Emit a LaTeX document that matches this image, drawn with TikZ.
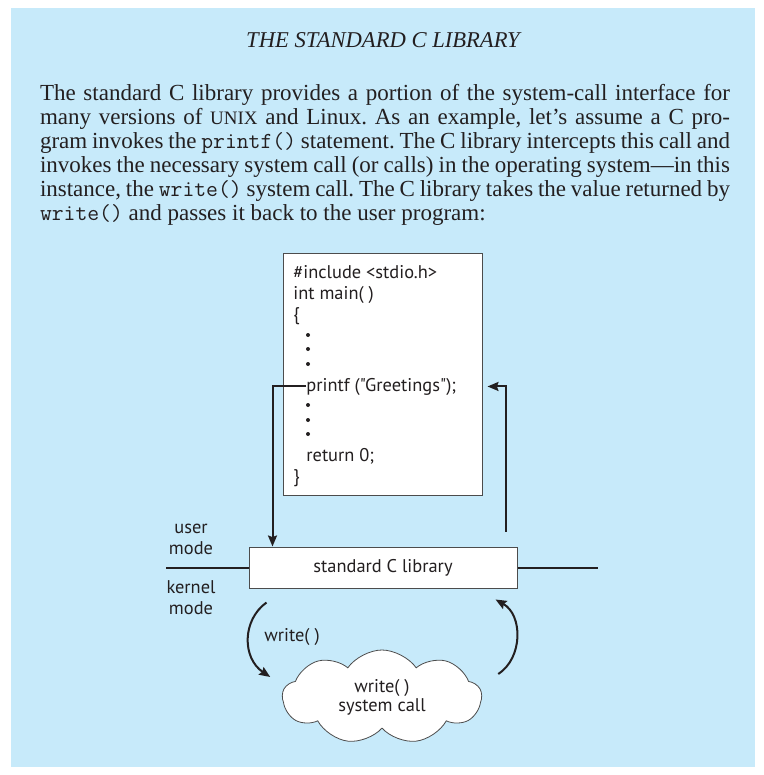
\documentclass[tikz,border=0pt]{standalone}
\usepackage{fontspec}
\setmainfont{Liberation Serif}
\newfontfamily\diagfont{PT Sans}
\usetikzlibrary{arrows.meta,positioning,calc,shapes.symbols}

\definecolor{bgblue}{RGB}{199,234,250}
\definecolor{textblack}{RGB}{35,31,32}

\begin{document}
\frenchspacing
\begin{tikzpicture}[
    x=0.5pt, y=-0.5pt,
    color=textblack,
    box/.style={
        draw=black!70,
        fill=white,
        line width=0.5pt,
        inner sep=0pt
    },
    code/.style={
        font=\diagfont\fontsize{9.2}{10.5}\selectfont,
        inner sep=0pt,
        anchor=base west
    },
    tag/.style={
        font=\diagfont\fontsize{9.2}{10.5}\selectfont,
        align=center,
        inner sep=0pt
    },
    line/.style={-{Stealth[length=5.5pt,width=4.5pt,inset=0.8pt]}, line width=1pt},
    modeline/.style={line width=1pt}
]

\useasboundingbox (0,0) rectangle (764,775);
\fill[bgblue] (11,8) rectangle (755,767);

% box title and text
\node[font=\itshape\fontsize{11.3}{13}\selectfont] (title) at (383,40) {THE STANDARD C LIBRARY};
\node[text width=345pt, align=justify, inner sep=0pt, font=\fontsize{11.5}{12}\selectfont] (intro) at (385,155) {%
The standard C library provides a portion of the system-call interface for\linebreak
many versions of {\fontsize{9.5}{12}\selectfont UNIX} and Linux. As an example, let's assume a C pro-\linebreak
gram invokes the \texttt{printf()} statement. The C library intercepts this call and\linebreak
invokes the necessary system call (or calls) in the operating system---in this\linebreak
instance, the \texttt{write()} system call. The C library takes the value returned by\linebreak
\texttt{write()} and passes it back to the user program:};

% user program
\node[box, minimum width=99.5pt, minimum height=121pt] (prog) at (382.5,374) {};
\node[code] (inc) at (293,278) {\#include <stdio.h>};
\node[code] (main) at (293,299) {int main( )};
\node[code] (open) at (293,320) {\{};
\node[code] (printf) at (306,391) {printf ("Greetings");};
\node[code] (ret) at (306,461) {return 0;};
\node[code] (close) at (293,482) {\}};
\foreach \y in {335,349,364,405,420,434}
    \fill (308,\y) circle (1pt);

% library and mode boundary
\node[box, minimum width=134pt, minimum height=20.5pt, font=\diagfont\fontsize{9.2}{10.5}\selectfont] (lib) at (383,567.5) {standard C library};
\coordinate (modeleft) at (166,567.5);
\coordinate (moderight) at (598,567.5);
\draw[modeline] (modeleft) -- (lib.west);
\draw[modeline] (lib.east) -- (moderight);
\node[tag] (user) at (191,539.5) {user\\mode};
\node[tag] (kernel) at (191,597.5) {kernel\\mode};

% system call
\node[cloud, cloud puffs=9, cloud puff arc=110, aspect=2.1, draw=black!70, fill=white,
      minimum width=99.5pt, minimum height=47pt, tag, font=\diagfont\fontsize{9.2}{9.5}\selectfont] (sys) at (382,697) {write( )\\system call};
\node[tag] (callname) at (292,637) {write( )};

\draw[line] (printf.west) -| ([xshift=12pt]lib.north west);
\draw[line] ([xshift=-6pt,yshift=7.5pt]lib.north east) |- ($(prog.east |- printf.west)+(5,0)$);
\draw[line] ([xshift=9pt,yshift=-7pt]lib.south west) .. controls (242,620) and (242,658) .. ([xshift=-5.75pt,yshift=10pt]sys.west);
\draw[line] ([xshift=8pt,yshift=11.5pt]sys.east) .. controls (523,658) and (523,615) .. ([xshift=-11pt,yshift=-5.5pt]lib.south east);

\end{tikzpicture}
\end{document}
